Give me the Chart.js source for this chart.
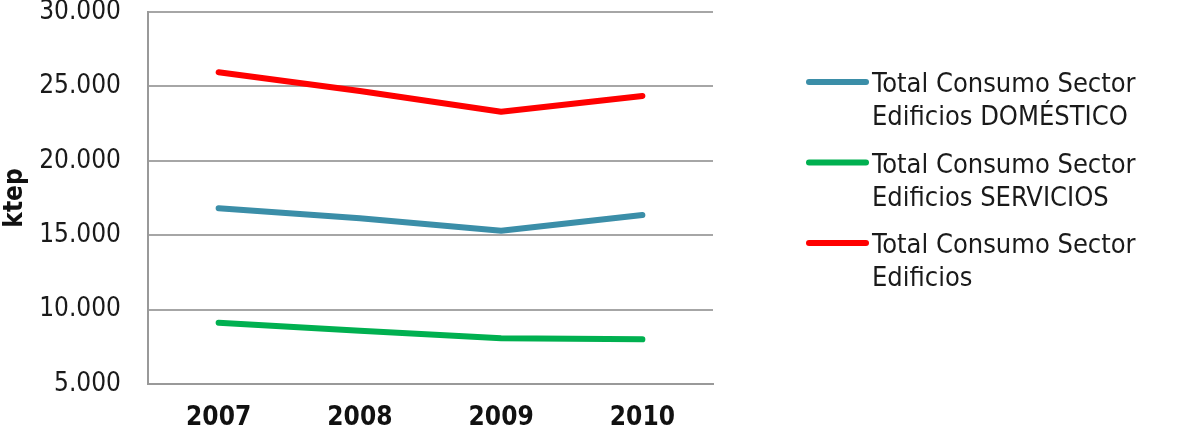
<!DOCTYPE html>
<html><head><meta charset="utf-8">
<script src="https://cdn.jsdelivr.net/npm/chart.js@4"></script>
<style>html,body{margin:0;padding:0;background:#fff;}#wrap{width:1183px;height:436px;position:relative;}</style>
</head><body><div id="wrap"><canvas id="c" width="1183" height="436"></canvas></div>
<script>
const categories = ['2007', '2008', '2009', '2010'];
const domestico = [16810, 16140, 15300, 16360];
const servicios = [9120, 8580, 8070, 8000];
const edificios = [25950, 24690, 23300, 24360];
const seriesLabels = [
  ['Total Consumo Sector', 'Edificios DOMÉSTICO'],
  ['Total Consumo Sector', 'Edificios SERVICIOS'],
  ['Total Consumo Sector', 'Edificios']
];
const yTicks = [5000, 10000, 15000, 20000, 25000, 30000];
const yTitle = 'ktep';

const FONT = '"DejaVu Sans Condensed", "DejaVu Sans", sans-serif';
const colors = ['#3B8EA8', '#00B050', '#FF0000'];

const legendPlugin = {
  id: 'customLegend',
  afterDraw(chart) {
    const ctx = chart.ctx;
    ctx.save();
    const x0 = 809, x1 = 866, tx = 872;
    const startY = 82, blockH = 80.5, lineH = 33;
    chart.data.datasets.forEach((ds, i) => {
      const y = startY + i * blockH;
      ctx.strokeStyle = ds.borderColor;
      ctx.lineWidth = 6;
      ctx.lineCap = 'round';
      ctx.beginPath(); ctx.moveTo(x0, y); ctx.lineTo(x1, y); ctx.stroke();
      ctx.fillStyle = '#1a1a1a';
      ctx.font = '27px ' + FONT;
      ctx.textBaseline = 'alphabetic';
      ctx.textAlign = 'left';
      ds.label.forEach((t, j) => ctx.fillText(t, tx, y + 10 + j * lineH));
    });
    ctx.restore();
  }
};

new Chart(document.getElementById('c'), {
  type: 'line',
  data: {
    labels: categories,
    datasets: [
      { label: seriesLabels[0], data: domestico, borderColor: colors[0] },
      { label: seriesLabels[1], data: servicios, borderColor: colors[1] },
      { label: seriesLabels[2], data: edificios, borderColor: colors[2] }
    ].map(d => Object.assign(d, { borderWidth: 6, pointRadius: 0, tension: 0, fill: false, borderCapStyle: 'round', borderJoinStyle: 'round' }))
  },
  options: {
    responsive: false,
    animation: false,
    events: [],
    layout: { padding: { left: 0, right: 470, top: 12, bottom: 0 } },
    plugins: { legend: { display: false }, tooltip: { enabled: false } },
    scales: {
      x: {
        offset: true,
        grid: { display: false, drawTicks: false },
        border: { display: true, color: '#999', width: 2 },
        ticks: { color: '#111', font: { family: FONT, size: 26, weight: 'bold' }, padding: 19 },
        afterFit(s) { s.height = 52; s.paddingLeft = 0; s.paddingRight = 0; }
      },
      y: {
        min: 5000, max: 30000,
        afterBuildTicks(s) { s.ticks = yTicks.map(v => ({ value: v })); },
        grid: { color: '#A6A6A6', lineWidth: 2, drawTicks: false },
        border: { display: true, color: '#999', width: 2 },
        ticks: {
          color: '#1a1a1a', font: { family: FONT, size: 26 }, padding: 27,
          callback: v => v.toLocaleString('de-DE')
        },
        title: { display: true, text: yTitle, color: '#111', font: { family: FONT, size: 26, weight: 'bold' }, padding: 0 },
        afterFit(s) { s.width = 148; s.paddingTop = 0; s.paddingBottom = 0; }
      }
    }
  },
  plugins: [legendPlugin]
});
</script></body></html>
